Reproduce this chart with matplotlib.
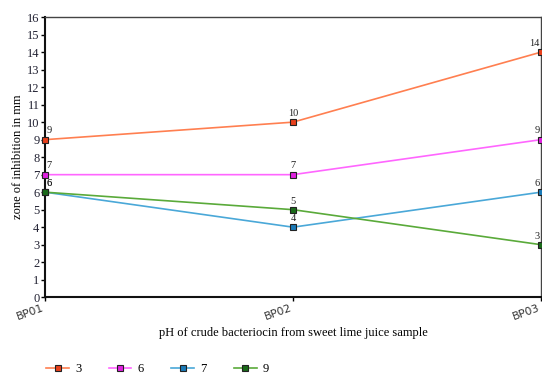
import matplotlib
matplotlib.use("Agg")

import numpy as np
import matplotlib.pyplot as plt

# data
samples = ["BP01", "BP02", "BP03"]
series_names = ["3", "6", "7", "9"]
ph3 = [9, 10, 14]
ph6 = [7, 7, 9]
ph7 = [6, 4, 6]
ph9 = [6, 5, 3]

line_colors = ["#ff7f50", "#ff66ff", "#4aa8d8", "#5aaa3a"]
face_colors = ["#e8401c", "#e020e0", "#1a7ab8", "#1a6a1a"]

fig = plt.figure(figsize=(5.42, 3.81), dpi=100)
ax = fig.add_axes([0.083, 0.22, 0.915, 0.735])

x = np.arange(len(samples))

for vals, name, lc, fc in zip([ph3, ph6, ph7, ph9], series_names, line_colors, face_colors):
    ax.plot(x, vals, color=lc, lw=1.2, marker="s", markersize=5,
            markerfacecolor=fc, markeredgecolor="#222222", markeredgewidth=0.8,
            label=name, clip_on=False, zorder=3)
    for i, (xi, v) in enumerate(zip(x, vals)):
        if i == 0:
            ha, dx = "left", 1
        elif i == len(vals) - 1:
            ha, dx = "right", -1
        else:
            ha, dx = "center", 0
        ax.annotate(str(v), (xi, v), xytext=(dx, 3), textcoords="offset points",
                    ha=ha, va="bottom", fontsize=7.5, family="Liberation Serif",
                    color="#222222", zorder=4)

ax.set_xlim(0, 2)
ax.set_ylim(0, 16)
ax.set_yticks(range(0, 17))
ax.set_xticks(x)
ax.set_xticklabels(samples, rotation=20, ha="right", fontsize=8,
                   family="DejaVu Sans", color="#333333")
for lab in ax.get_yticklabels():
    lab.set_family("Liberation Serif")
    lab.set_fontsize(9)
    lab.set_color("#222233")

ax.tick_params(axis="both", length=3, width=1, pad=1)
for s in ["left", "bottom"]:
    ax.spines[s].set_linewidth(1.5)
    ax.spines[s].set_color("#111111")
for s in ["top", "right"]:
    ax.spines[s].set_linewidth(1)
    ax.spines[s].set_color("#444444")

ax.set_xlabel("pH of crude bacteriocin from sweet lime juice sample",
              family="Liberation Serif", fontsize=9, labelpad=4)
ax.set_ylabel("zone of inhibition in mm", family="Liberation Serif",
              fontsize=9, labelpad=2)

leg = fig.legend(loc="lower left", bbox_to_anchor=(0.065, -0.015), ncol=4,
                 frameon=False, handlelength=1.8,
                 columnspacing=2.2, handletextpad=0.5,
                 prop={"family": "Liberation Serif", "size": 9})
for h in leg.legend_handles:
    h.set_markersize(5)

fig.savefig("out.png", dpi=100)
